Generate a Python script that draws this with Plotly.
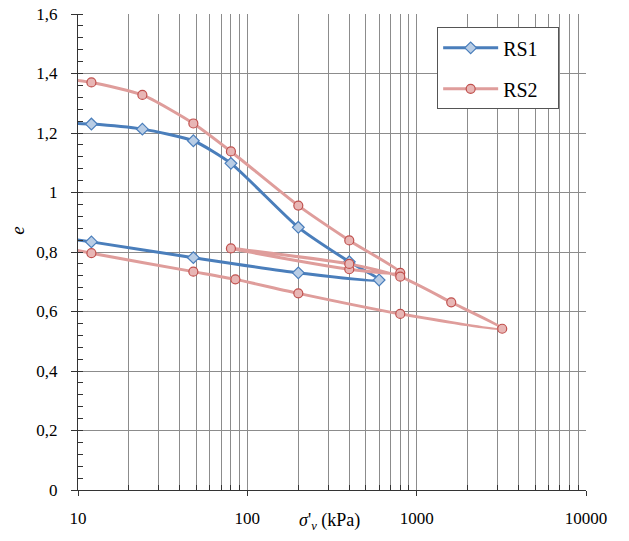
import plotly.graph_objects as go

# RS1 data (sigma'_v in kPa, void ratio e)
rs1_sigma = [6, 12, 24, 48, 80, 200, 400, 600, 200, 48, 12, 6]
rs1_e = [1.236, 1.230, 1.213, 1.174, 1.098, 0.883, 0.767, 0.706, 0.730, 0.781, 0.834, 0.858]

# RS2 data
rs2_sigma = [6, 12, 24, 48, 80, 200, 400, 800, 400, 80, 400, 800, 1600, 3200, 800, 200, 85, 48, 12, 6]
rs2_e = [1.392, 1.370, 1.328, 1.232, 1.138, 0.956, 0.839, 0.730, 0.742, 0.812, 0.760, 0.717,
         0.631, 0.542, 0.592, 0.661, 0.708, 0.734, 0.796, 0.830]

x_ticks = [10, 100, 1000, 10000]
x_ticktext = ["10", "100", "1000", "10000"]
x_minor = [m * d for d in (10, 100, 1000) for m in range(2, 10)]
y_ticks = [0, 0.2, 0.4, 0.6, 0.8, 1.0, 1.2, 1.4, 1.6]
y_ticktext = ["0", "0,2", "0,4", "0,6", "0,8", "1", "1,2", "1,4", "1,6"]

BLUE = "#4a7ebb"
BLUE_FILL = "#b9cde5"
RED_LINE = "#df9d9b"
RED_EDGE = "#c0504d"
RED_FILL = "#e8b6b5"
GRID = "#8c8c8c"
AX = "#333333"
FONT = "Liberation Serif, Times New Roman, serif"

fig = go.Figure()
fig.add_trace(go.Scatter(
    x=rs1_sigma, y=rs1_e, name="RS1&nbsp;&nbsp;&nbsp;", mode="lines+markers",
    line=dict(color=BLUE, width=3, shape="spline", smoothing=0.6),
    marker=dict(symbol="diamond", size=9, color=BLUE_FILL, line=dict(color=BLUE, width=1.2)),
    legendgroup="a",
))
fig.add_trace(go.Scatter(
    x=rs2_sigma, y=rs2_e, name="RS2&nbsp;&nbsp;&nbsp;", mode="lines+markers",
    line=dict(color=RED_LINE, width=3, shape="spline", smoothing=0.6),
    marker=dict(symbol="circle", size=9, color=RED_FILL, line=dict(color=RED_EDGE, width=1.2)),
    legendgroup="b",
))

fig.update_layout(
    width=621, height=533,
    margin=dict(l=70, r=43, t=6, b=51, autoexpand=False),
    paper_bgcolor="white", plot_bgcolor="white",
    font=dict(family=FONT, size=17, color="black"),
    showlegend=True,
    legend=dict(
        x=0.707, y=0.972, xanchor="left", yanchor="top",
        bordercolor="#555555", borderwidth=1, bgcolor="white",
        font=dict(family=FONT, size=20),
        tracegroupgap=12, itemwidth=55,
    ),
    xaxis=dict(
        type="log", range=[1, 4], automargin=False,
        tickmode="array", tickvals=x_ticks, ticktext=x_ticktext,
        showgrid=True, gridcolor=GRID, gridwidth=1,
        showline=True, linecolor=AX, linewidth=1.2,
        ticks="outside", ticklen=5, tickcolor=AX, ticklabelstandoff=7,
        ticklabeloverflow="allow",
        zeroline=False,
        minor=dict(tickmode="array", tickvals=x_minor, showgrid=True, gridcolor=GRID,
                   gridwidth=1, ticks="inside", ticklen=5, tickcolor=AX),
    ),
    yaxis=dict(
        range=[0, 1.6], automargin=False,
        tickmode="array", tickvals=y_ticks, ticktext=y_ticktext,
        showgrid=True, gridcolor=GRID, gridwidth=1,
        showline=True, linecolor=AX, linewidth=1.2,
        ticks="outside", ticklen=6, tickcolor=AX, ticklabelstandoff=10,
        ticklabeloverflow="allow",
        zeroline=False,
        minor=dict(dtick=0.04, tick0=0, showgrid=False, ticks="inside", ticklen=5, tickcolor=AX),
    ),
    annotations=[
        dict(text="<i>σ</i>'<sub><i>v</i></sub> (kPa)", xref="paper", yref="paper",
             x=0.495, y=-0.038, xanchor="center", yanchor="top", showarrow=False,
             font=dict(family=FONT, size=18)),
        dict(text="<i>e</i>", xref="paper", yref="paper",
             x=-0.118, y=0.545, xanchor="center", yanchor="middle", showarrow=False,
             textangle=-90, font=dict(family=FONT, size=19)),
    ],
)

fig.write_html("out.html")
